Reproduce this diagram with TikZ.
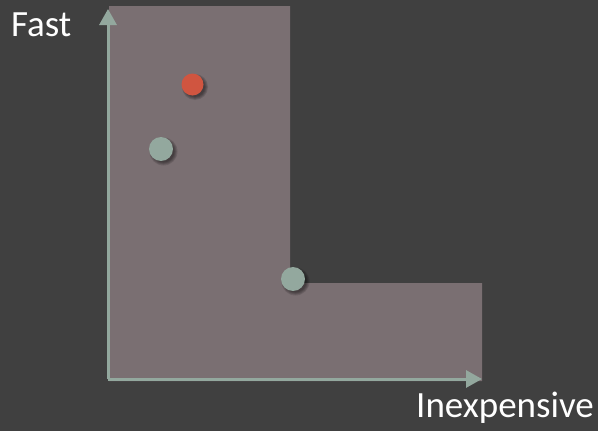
\documentclass[tikz,border=0pt]{standalone}
\usepackage{fontspec}
\setmainfont{Carlito}
\usetikzlibrary{arrows.meta,calc}
\definecolor{bg}{HTML}{404040}
\definecolor{region}{HTML}{7A6F72}
\definecolor{axis}{HTML}{93A89E}
\definecolor{dotred}{HTML}{D05540}
\definecolor{dotgray}{HTML}{93A89E}
\tikzset{
  axisline/.style={draw=axis, line width=3pt, -{Triangle[length=16pt,width=17pt]}},
  dot/.style={circle, minimum size=#1, inner sep=0pt},
  lbl/.style={text=white, font=\fontsize{37}{44}\selectfont, inner sep=0pt, anchor=base west}
}
\newcommand{\softshadow}[2]{%
  \foreach \k in {0,1,2,3}{
    \fill[black, opacity=0.13] ($(#1)+(2.5,2.5)$) circle ({#2+2-\k});
  }}
\begin{document}
\begin{tikzpicture}[x=1pt,y=-1pt]
\fill[bg] (0,0) rectangle (598,431);
\useasboundingbox (0,0) rectangle (598,431);
\fill[region] (109,6) -- (290,6) -- (290,283) -- (482,283) -- (482,381) -- (109,381) -- cycle;
\coordinate (O) at (108,379);
\coordinate (Ytip) at (108,9);
\coordinate (Xtip) at (482,379);
\draw[axisline] (O) -- (Ytip);
\draw[axisline] (O) -- (Xtip);
\coordinate (rc) at (192.5,84.5);
\coordinate (g1c) at (161,149);
\coordinate (g2c) at (293,279);
\softshadow{rc}{11}
\softshadow{g1c}{12}
\softshadow{g2c}{12}
\node[dot=22pt, fill=dotred] (r) at (rc) {};
\node[dot=24pt, fill=dotgray] (g1) at (g1c) {};
\node[dot=24pt, fill=dotgray] (g2) at (g2c) {};
\node[lbl] (fast) at (11,37) {Fast};
\node[lbl] (inexp) at (416,417) {Inexpensive};
\end{tikzpicture}
\end{document}
